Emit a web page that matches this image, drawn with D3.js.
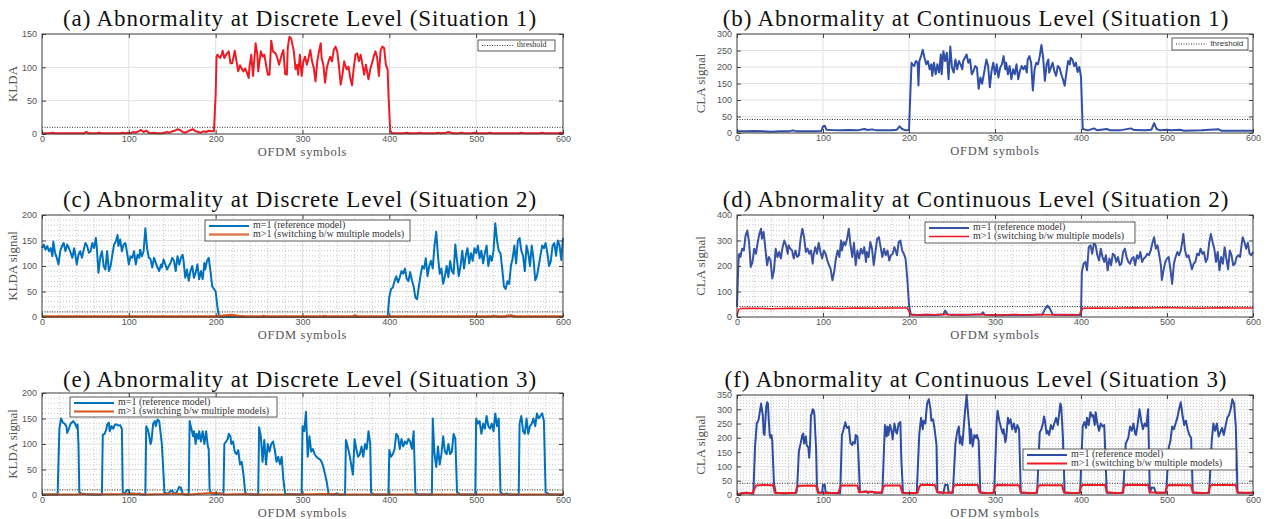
<!DOCTYPE html>
<html>
<head>
<meta charset="utf-8">
<script src="https://cdn.jsdelivr.net/npm/d3@7"></script>
<style>
  body { margin: 0; background: #fff; }
</style>
</head>
<body>
<div id="fig"></div>
<script>
// ---- data: [OFDM symbol, value] ----
const symbolTicks = [0, 100, 200, 300, 400, 500, 600];

// (a) KLDA, situation 1
const kldaSit1 = [[0,1],[9,1],[12,2],[15,1],[48,1],[51,3],[54,1],[63,1],[66,2],[69,1],[90,1],[93,2],[96,1],[99,2],[102,1],[105,3],[108,2],[111,4],[114,6],[117,3],[120,5],[123,2],[126,1],[129,2],[132,1],[138,1],[141,2],[144,3],[147,2],[150,4],[153,5],[156,7],[159,6],[162,3],[165,2],[168,4],[171,6],[174,7],[177,4],[180,3],[183,2],[186,4],[189,3],[192,5],[195,4],[198,4],
  [200,60],[201,116],[202,119],[205,114],[207,119],[208,125],[210,114],[212,119],[215,124],[217,106],[219,106],[222,125],[224,109],[226,94],[228,103],[230,98],[232,94],[234,98],[236,92],[238,84],[239,101],[241,119],[243,87],[245,119],[246,136],[248,119],[249,94],[252,124],[254,116],[256,119],[258,104],[260,89],[262,89],[264,140],[266,124],[269,121],[271,114],[273,104],[276,119],[278,126],[280,90],[282,89],[283,129],[285,146],[287,143],[290,124],[292,97],[294,104],[295,89],[297,119],[299,87],[301,109],[303,116],[305,104],[307,114],[309,126],[311,109],[313,99],[315,79],[317,109],[319,124],[321,136],[322,114],[324,104],[326,77],[328,99],[330,109],[332,116],[334,109],[336,126],[338,131],[340,124],[342,101],[344,74],[346,89],[348,109],[349,104],[351,97],[353,101],[355,84],[357,73],[359,99],[361,119],[363,121],[365,109],[367,119],[369,104],[371,89],[373,104],[375,89],[376,82],[378,97],[380,106],[382,116],[384,124],[386,114],[388,87],[390,126],[392,131],[394,129],[396,104],[398,97],[399,60],[401,5],
  [403,1],[417,1],[420,2],[423,1],[432,1],[435,2],[438,1],[453,1],[456,2],[459,1],[465,2],[468,3],[471,2],[474,1],[480,1],[483,2],[486,1],[495,1],[498,2],[501,1],[513,1],[516,2],[519,1],[549,1],[552,2],[555,1],[573,1],[576,2],[579,1],[594,1],[597,2],[600,1]];

// (b) CLA, situation 1
const claSit1 = [[0,5],[10,5],[20,6],[30,5],[40,4],[50,5],[60,5],[65,8],[70,5],[80,5],[90,5],[98,6],[100,20],[102,22],[104,10],[110,9],[120,8],[130,9],[140,8],[148,12],[152,9],[157,11],[162,8],[170,8],[180,8],[186,10],[189,20],[192,12],[196,8],[200,9],
  [202,150],[203,213],[204,208],[206,203],[208,218],[210,213],[211,144],[212,218],[214,233],[216,252],[218,228],[220,208],[222,218],[224,193],[226,208],[227,173],[229,213],[231,178],[233,208],[235,183],[237,238],[238,178],[240,248],[242,218],[244,243],[246,163],[248,262],[250,198],[252,183],[254,223],[256,193],[258,218],[260,208],[262,193],[263,218],[265,228],[267,238],[269,213],[271,223],[273,178],[275,188],[277,203],[279,198],[281,134],[283,168],[285,149],[287,178],[288,193],[290,223],[292,203],[294,139],[296,188],[298,213],[300,178],[302,208],[304,168],[306,198],[308,208],[310,233],[312,193],[313,213],[315,178],[317,203],[319,163],[321,193],[323,178],[325,208],[327,163],[329,188],[331,203],[333,193],[335,203],[337,183],[338,223],[340,233],[342,213],[344,129],[346,193],[348,213],[350,208],[352,233],[354,267],[356,228],[358,158],[360,208],[362,223],[363,183],[365,198],[367,213],[369,188],[371,173],[373,203],[375,198],[377,178],[379,163],[381,143],[383,183],[385,218],[387,208],[388,228],[390,223],[392,203],[394,213],[396,185],[398,200],[400,170],[402,12],
  [408,8],[415,14],[419,8],[430,12],[434,8],[445,8],[458,14],[462,9],[475,8],[482,10],[485,30],[488,12],[492,8],[500,10],[505,8],[515,10],[520,7],[540,8],[560,11],[563,7],[580,7],[600,7]];

// (c) KLDA, situation 2
const kldaSit2Ref = [[0,135],[2,142],[4,132],[6,139],[8,129],[10,135],[12,119],[13,148],[15,126],[17,116],[19,103],[21,129],[23,139],[25,145],[27,129],[29,142],[31,135],[33,126],[35,116],[37,135],[38,126],[40,103],[42,122],[44,129],[46,116],[48,132],[50,145],[52,139],[54,126],[56,129],[58,145],[60,135],[62,155],[63,139],[65,87],[67,116],[69,129],[71,100],[73,93],[75,129],[77,90],[79,100],[81,122],[83,142],[85,148],[87,161],[88,139],[90,152],[92,129],[94,142],[96,145],[98,126],[100,103],[102,119],[104,116],[106,129],[108,103],[110,122],[112,116],[113,132],[115,119],[117,129],[119,174],[121,135],[123,116],[125,113],[127,97],[129,116],[131,106],[133,97],[135,90],[137,103],[138,97],[140,113],[142,103],[144,93],[146,100],[148,106],[150,116],[152,110],[154,90],[156,119],[158,103],[160,116],[162,122],[163,110],[165,77],[167,93],[169,71],[171,90],[173,100],[175,77],[177,87],[179,103],[181,74],[183,90],[185,74],[187,106],[188,93],[190,110],[192,116],[194,90],[196,60],[198,55],[200,50],[202,20],[204,0],
  [398,0],[400,40],[402,55],[404,58],[406,70],[408,80],[410,68],[412,78],[414,90],[416,85],[418,95],[420,75],[422,70],[424,88],[426,72],[428,60],[430,38],[432,35],[434,60],[436,82],[438,100],[440,95],[442,115],[444,80],[446,100],[448,110],[450,95],[452,140],[454,167],[456,120],[458,85],[460,95],[462,65],[464,80],[466,100],[468,78],[470,110],[472,90],[474,85],[476,142],[478,110],[480,80],[482,100],[484,130],[486,95],[488,120],[490,135],[492,105],[494,125],[496,110],[498,135],[500,125],[502,140],[504,115],[506,130],[508,105],[510,125],[512,140],[514,100],[516,120],[518,110],[520,130],[522,184],[524,150],[526,130],[528,125],[530,95],[532,60],[534,55],[536,70],[538,65],[540,100],[542,115],[544,140],[546,105],[548,150],[550,155],[552,130],[554,120],[556,90],[558,140],[560,125],[562,100],[564,140],[566,115],[568,72],[570,80],[572,100],[574,120],[576,140],[578,135],[580,145],[582,125],[584,100],[586,110],[588,140],[590,145],[592,120],[594,150],[596,140],[598,112],[600,155]];
const kldaSit2Sw = [[0,1],[200,1],[205,2],[212,3],[218,4],[222,3],[226,2],[235,1],[253,1],[255,2],[258,1],[323,1],[325,2],[328,1],[358,1],[360,3],[364,1],[518,1],[520,2],[525,1],[533,1],[535,2],[540,3],[545,1],[600,1]];

// (d) CLA, situation 2
const claSit2Ref = [[0,40],[1,150],[2,242],[3,248],[4,235],[6,268],[8,261],[10,320],[12,339],[14,294],[16,196],[18,215],[20,268],[22,248],[24,291],[26,326],[28,346],[29,307],[31,333],[33,268],[35,203],[37,235],[39,222],[41,151],[43,183],[45,268],[47,235],[49,255],[51,229],[53,274],[55,300],[57,281],[59,248],[60,281],[62,268],[64,261],[66,229],[68,261],[70,235],[72,242],[74,307],[76,346],[78,313],[80,255],[82,268],[84,248],[86,261],[88,209],[89,242],[91,274],[93,248],[95,291],[97,255],[99,229],[101,261],[103,248],[105,222],[107,203],[109,187],[111,144],[113,177],[115,229],[117,261],[119,235],[121,300],[122,261],[124,294],[126,281],[128,307],[130,346],[132,281],[134,235],[136,291],[138,203],[140,261],[142,229],[144,268],[146,248],[148,274],[150,216],[151,255],[153,235],[155,294],[157,268],[159,203],[161,255],[163,307],[165,313],[167,274],[169,235],[171,268],[173,242],[175,261],[177,222],[179,242],[181,248],[183,274],[185,255],[186,242],[188,294],[190,300],[192,261],[194,248],[196,229],[198,151],[200,47],[202,10],
  [210,8],[220,9],[230,8],[240,10],[242,25],[245,10],[260,8],[270,9],[284,10],[286,18],[288,9],[300,7],[320,8],[340,8],[355,10],[358,30],[361,45],[364,32],[367,10],[380,8],[390,9],[398,8],[400,8],
  [401,177],[403,209],[405,216],[407,183],[409,274],[411,281],[413,248],[415,291],[417,281],[419,242],[421,222],[423,268],[425,235],[427,216],[429,242],[431,183],[433,229],[435,203],[437,248],[439,242],[441,216],[443,235],[445,203],[447,209],[449,255],[451,268],[453,235],[455,216],[457,209],[459,229],[461,235],[463,203],[465,242],[467,229],[469,255],[471,216],[473,229],[475,235],[477,248],[479,242],[481,260],[483,290],[485,313],[487,268],[489,281],[491,242],[493,200],[494,145],[496,183],[498,216],[500,229],[502,235],[504,187],[506,130],[508,209],[510,235],[512,255],[514,242],[516,260],[518,300],[519,326],[521,261],[523,235],[525,242],[527,216],[529,187],[531,209],[533,216],[535,248],[537,242],[539,268],[541,248],[543,255],[545,216],[547,229],[549,290],[551,326],[553,294],[555,268],[557,216],[559,255],[561,183],[563,235],[565,209],[567,274],[569,229],[571,187],[573,261],[575,242],[577,203],[579,209],[581,235],[583,242],[585,235],[587,290],[588,313],[590,294],[592,268],[594,291],[596,248],[598,242],[600,255]];
const claSit2Sw = [[0,5],[2,30],[4,33],[20,34],[40,32],[60,34],[80,33],[100,35],[120,33],[140,35],[160,34],[180,35],[198,35],[201,15],[203,8],[210,8],[220,10],[230,9],[240,11],[250,8],[260,10],[270,9],[280,11],[290,8],[300,9],[310,8],[320,10],[330,9],[340,8],[350,10],[360,9],[370,8],[380,10],[390,8],[398,10],[400,20],[402,34],[420,35],[440,34],[460,36],[480,35],[500,37],[520,35],[540,34],[560,36],[580,35],[600,35]];

// (e) KLDA, situation 3
const kldaSit3Ref = [[0,1],[10,1],[18,1],
  [20,130],[22,150],[24,142],[26,140],[28,135],[29,122],[31,130],[33,140],[35,143],[36,145],[38,140],[40,132],[41,138],[42,100],[43,5],[45,3],[50,2],[60,1],[69,1],
  [70,118],[72,120],[74,128],[75,138],[77,142],[78,125],[80,135],[82,130],[84,138],[86,138],[88,136],[90,137],[92,130],[93,5],[95,2],[98,10],[100,10],[101,2],[105,3],[108,2],[112,3],[115,1],[119,1],
  [120,135],[122,128],[123,120],[125,100],[126,105],[128,140],[130,145],[131,135],[133,148],[135,145],[136,130],[138,100],[139,70],[141,5],[145,2],[148,8],[150,9],[152,3],[155,5],[158,16],[160,14],[162,3],[165,1],[169,1],
  [170,145],[172,130],[174,115],[175,125],[177,100],[178,120],[180,110],[181,125],[183,105],[185,125],[187,100],[189,125],[191,95],[192,90],[193,10],[195,3],[200,2],[205,3],[209,2],
  [210,100],[212,105],[214,110],[215,120],[217,115],[218,100],[220,105],[222,85],[224,80],[226,88],[228,60],[230,65],[232,40],[234,5],[236,2],[249,1],
  [250,133],[252,115],[254,65],[256,108],[258,60],[260,100],[262,85],[264,100],[266,105],[268,90],[270,65],[272,75],[274,60],[276,75],[278,30],[280,2],[285,2],[299,1],
  [300,135],[302,125],[304,163],[306,75],[308,115],[310,85],[312,90],[314,80],[316,75],[318,72],[320,70],[322,65],[324,55],[326,40],[328,25],[330,2],[335,1],[340,3],[342,1],[349,1],
  [350,108],[352,95],[354,80],[356,60],[358,40],[360,110],[362,90],[364,75],[366,80],[368,95],[370,75],[372,100],[374,90],[376,125],[378,100],[379,5],[382,1],[399,1],
  [400,88],[402,75],[404,80],[406,90],[408,120],[410,115],[412,90],[414,110],[416,95],[418,105],[420,100],[422,110],[424,105],[426,90],[428,125],[430,5],[433,1],[449,1],
  [450,150],[452,80],[454,55],[456,95],[458,60],[460,80],[462,115],[464,85],[466,80],[468,100],[470,80],[472,85],[474,120],[476,110],[478,5],[482,1],[499,1],
  [500,150],[502,140],[504,145],[506,120],[508,140],[510,130],[512,155],[514,135],[516,130],[518,140],[520,125],[522,160],[524,135],[526,150],[528,5],[532,1],[535,3],[538,1],[549,1],
  [550,140],[552,155],[554,125],[556,120],[558,150],[560,120],[562,135],[564,140],[566,150],[568,135],[570,160],[572,150],[574,155],[576,160],[578,145],[580,5],[585,1],[600,1]];
const kldaSit3Sw = [[0,1],[40,1],[45,2],[55,1],[95,2],[100,3],[110,2],[120,1],[140,2],[150,3],[160,2],[170,1],[195,4],[200,4],[205,3],[210,1],[235,2],[240,1],[285,1],[330,2],[340,1],[596,1],[600,2]];

// (f) CLA, situation 3
const claSit3Ref = [[0,2],[5,5],[10,8],[15,6],[19,5],
  [21,170],[23,250],[25,262],[27,300],[28,320],[30,280],[31,215],[32,210],[33,260],[34,310],[35,325],[36,320],[37,260],[38,210],[39,200],[40,210],[41,190],[43,40],[45,8],[55,6],[65,7],[69,8],
  [70,30],[72,155],[74,180],[76,210],[77,215],[78,180],[80,205],[81,175],[83,165],[84,130],[85,180],[86,280],[87,285],[88,300],[89,298],[90,280],[92,160],[93,30],[95,8],[99,10],[100,35],[102,36],[103,10],[110,7],[120,6],
  [122,210],[124,230],[126,255],[127,240],[128,235],[130,240],[132,180],[134,175],[135,185],[137,180],[138,210],[140,205],[141,150],[143,10],[150,12],[152,8],[157,12],[160,8],[169,8],
  [172,245],[174,205],[175,240],[176,210],[178,245],[180,220],[181,195],[183,250],[185,220],[186,215],[188,250],[190,255],[191,130],[193,8],[200,7],[209,8],
  [212,215],[214,270],[216,230],[217,260],[219,250],[221,320],[223,335],[225,300],[226,260],[228,265],[230,225],[232,175],[233,10],[240,8],[242,35],[245,35],[246,10],[251,8],
  [254,180],[256,220],[258,240],[259,180],[260,205],[262,175],[263,210],[265,290],[266,320],[267,350],[268,310],[270,240],[271,180],[272,230],[274,170],[276,210],[278,200],[279,210],[281,190],[283,8],[290,7],[299,8],
  [302,260],[303,295],[305,260],[307,235],[309,215],[310,230],[312,185],[313,200],[315,270],[316,250],[318,265],[320,230],[322,250],[324,220],[326,245],[328,230],[330,8],[340,7],[349,8],
  [352,220],[354,230],[356,255],[357,275],[358,260],[360,215],[361,225],[363,210],[365,245],[367,230],[369,250],[371,270],[373,245],[376,320],[377,310],[379,200],[381,8],[390,7],[399,8],
  [402,240],[404,255],[406,235],[407,270],[409,245],[411,290],[413,275],[414,280],[416,245],[417,290],[419,250],[421,225],[423,250],[425,240],[427,245],[430,8],[440,7],[449,8],
  [452,180],[455,200],[457,240],[459,225],[461,250],[463,215],[464,210],[466,250],[468,300],[470,260],[472,230],[474,250],[476,240],[478,300],[480,8],[482,25],[485,25],[487,8],[499,8],
  [502,165],[504,190],[506,240],[508,230],[510,250],[512,270],[514,300],[516,325],[518,280],[520,245],[522,260],[524,230],[526,210],[528,200],[530,8],[540,7],[549,8],
  [552,190],[554,250],[556,225],[558,250],[560,205],[562,220],[564,235],[566,210],[568,240],[570,270],[572,280],[574,300],[576,335],[578,320],[580,240],[582,8],[590,7],[600,8]];
const claSit3Sw = [[0,2],[6,6],[12,8],[18,5],[20,20],[22,33],[30,35],[42,34],[44,8],[55,6],[68,8],[70,28],[72,32],[85,33],[92,32],[94,8],[105,7],[118,8],[120,28],[122,33],[140,33],[142,10],[150,12],[160,10],[168,8],[170,28],[172,33],[190,33],[192,8],[205,7],[210,8],[212,30],[214,36],[230,35],[233,10],[240,8],[250,8],[252,30],[254,35],[280,35],[282,10],[290,7],[298,8],[300,30],[302,35],[328,34],[330,10],[340,7],[348,8],[350,30],[352,34],[378,34],[380,10],[390,7],[398,8],[400,30],[402,35],[428,35],[430,10],[440,7],[448,8],[450,30],[452,36],[478,35],[480,10],[490,8],[498,8],[500,30],[502,35],[528,34],[530,10],[540,7],[548,8],[550,30],[552,35],[580,35],[582,10],[590,8],[600,8]];

const thresholds = { a: 10, b: 41, c: 10, d: 41, e: 10, f: 41 };
const legendRef = "m=1 (reference model)";
const legendSw = "m>1 (switching b/w multiple models)";

// ---- drawing ----
const serif = "'Liberation Serif','Times New Roman',serif";
const sans = "'Liberation Sans',Arial,sans-serif";

const svg = d3.select("#fig").append("svg")
    .attr("width", 1270)
    .attr("height", 519)
    .style("display", "block");

const panels = [
  { id: "a", left: 42, right: 563, top: 34, bottom: 134, ymax: 150, ystep: 50, minor: 0,
    title: "(a) Abnormality at Discrete Level (Situation 1)", ylabel: "KLDA", titleX: 300, titleY: 26, ylabX: 14,
    series: [{ data: kldaSit1, color: "#ed1c24", w: 2 }],
    legend: { x: 478, y: 40, w: 77, h: 11, font: serif, items: [{ label: "threshold", thr: true }] } },
  { id: "b", left: 737, right: 1253, top: 34, bottom: 133, ymax: 300, ystep: 50, minor: 0,
    title: "(b) Abnormality at Continuous Level (Situation 1)", ylabel: "CLA signal", titleX: 976, titleY: 26, ylabX: 702,
    series: [{ data: claSit1, color: "#3050a8", w: 2 }],
    legend: { x: 1172, y: 38, w: 76, h: 12, font: sans, items: [{ label: "threshold", thr: true }] } },
  { id: "c", left: 42, right: 563, top: 215, bottom: 317, ymax: 200, ystep: 50, minor: 10,
    title: "(c) Abnormality at Discrete Level (Situation 2)", ylabel: "KLDA signal", titleX: 300, titleY: 207, ylabX: 14,
    series: [{ data: kldaSit2Ref, color: "#0072bd", w: 2 }, { data: kldaSit2Sw, color: "#d95319", w: 2.5 }],
    legend: { x: 205, y: 220, w: 205, h: 21, font: serif,
      items: [{ label: legendRef, color: "#0072bd", w: 2 }, { label: legendSw, color: "#e07a55", w: 2.5 }] } },
  { id: "d", left: 737, right: 1253, top: 215, bottom: 317, ymax: 400, ystep: 100, minor: 20,
    title: "(d) Abnormality at Continuous Level (Situation 2)", ylabel: "CLA signal", titleX: 976, titleY: 207, ylabX: 702,
    series: [{ data: claSit2Ref, color: "#3a52a3", w: 2 }, { data: claSit2Sw, color: "#f01820", w: 1.5 }],
    legend: { x: 925, y: 222, w: 210, h: 21, font: serif,
      items: [{ label: legendRef, color: "#3a52a3", w: 2 }, { label: legendSw, color: "#f01820", w: 1.5 }] } },
  { id: "e", left: 42, right: 563, top: 393, bottom: 495, ymax: 200, ystep: 50, minor: 10,
    title: "(e) Abnormality at Discrete Level (Situation 3)", ylabel: "KLDA signal", titleX: 300, titleY: 387, ylabX: 14,
    series: [{ data: kldaSit3Ref, color: "#0072bd", w: 2 }, { data: kldaSit3Sw, color: "#d95319", w: 2 }],
    legend: { x: 70, y: 397, w: 207, h: 20, font: serif,
      items: [{ label: legendRef, color: "#0072bd", w: 2 }, { label: legendSw, color: "#d95319", w: 2 }] } },
  { id: "f", left: 737, right: 1253, top: 395, bottom: 495, ymax: 350, ystep: 50, minor: 10,
    title: "(f) Abnormality at Continuous Level (Situation 3)", ylabel: "CLA signal", titleX: 976, titleY: 387, ylabX: 702,
    series: [{ data: claSit3Ref, color: "#2e4da2", w: 2 }, { data: claSit3Sw, color: "#ee1c25", w: 2 }],
    legend: { x: 1023, y: 449, w: 213, h: 21, font: serif,
      items: [{ label: legendRef, color: "#2e4da2", w: 2 }, { label: legendSw, color: "#ee1c25", w: 2 }] } }
];

panels.forEach(drawPanel);

function drawPanel(p) {
  const x = d3.scaleLinear().domain([0, 600]).range([p.left, p.right]);
  const y = d3.scaleLinear().domain([0, p.ymax]).range([p.bottom, p.top]);
  const g = svg.append("g");
  const yTicks = d3.range(0, p.ymax + 1, p.ystep);

  // minor grid (dotted)
  if (p.minor) {
    g.append("g").selectAll("line")
      .data(d3.range(20, 600, 20).filter(v => v % 100 !== 0))
      .join("line")
      .attr("x1", d => x(d)).attr("x2", d => x(d))
      .attr("y1", p.top).attr("y2", p.bottom)
      .attr("stroke", "#c8c8c8").attr("stroke-dasharray", "1,2");
    g.append("g").selectAll("line")
      .data(d3.range(p.minor, p.ymax, p.minor).filter(v => v % p.ystep !== 0))
      .join("line")
      .attr("x1", p.left).attr("x2", p.right)
      .attr("y1", d => y(d)).attr("y2", d => y(d))
      .attr("stroke", "#c8c8c8").attr("stroke-dasharray", "1,2");
  }

  // major grid
  g.append("g").selectAll("line")
    .data(symbolTicks.slice(1, -1))
    .join("line")
    .attr("x1", d => x(d)).attr("x2", d => x(d))
    .attr("y1", p.top).attr("y2", p.bottom)
    .attr("stroke", "#e0e0e0");
  g.append("g").selectAll("line")
    .data(yTicks.slice(1, -1))
    .join("line")
    .attr("x1", p.left).attr("x2", p.right)
    .attr("y1", d => y(d)).attr("y2", d => y(d))
    .attr("stroke", "#e0e0e0");

  // threshold
  g.append("line")
    .attr("x1", p.left).attr("x2", p.right)
    .attr("y1", y(thresholds[p.id])).attr("y2", y(thresholds[p.id]))
    .attr("stroke", "#333").attr("stroke-dasharray", "1,1.5");

  // signals
  const line = d3.line().x(d => x(d[0])).y(d => y(d[1]));
  p.series.forEach(s => {
    g.append("path")
      .datum(s.data)
      .attr("d", line)
      .attr("fill", "none")
      .attr("stroke", s.color)
      .attr("stroke-width", s.w)
      .attr("stroke-linejoin", "round");
  });

  // axes with inward ticks
  const styleAxis = sel => {
    sel.select(".domain").remove();
    sel.selectAll(".tick line").attr("stroke", "#444");
    sel.selectAll(".tick text").attr("fill", "#555").style("font-family", sans).style("font-size", "9px");
  };
  g.append("g").attr("transform", `translate(0,${p.bottom})`)
    .call(d3.axisBottom(x).tickValues(symbolTicks).tickSize(-4).tickPadding(1.5).tickFormat(d3.format("d")))
    .call(styleAxis);
  g.append("g").attr("transform", `translate(0,${p.top})`)
    .call(d3.axisTop(x).tickValues(symbolTicks).tickSize(-4).tickFormat(""))
    .call(styleAxis);
  g.append("g").attr("transform", `translate(${p.left},0)`)
    .call(d3.axisLeft(y).tickValues(yTicks).tickSize(-4).tickPadding(5).tickFormat(d3.format("d")))
    .call(styleAxis);
  g.append("g").attr("transform", `translate(${p.right},0)`)
    .call(d3.axisRight(y).tickValues(yTicks).tickSize(-4).tickFormat(""))
    .call(styleAxis);

  g.append("rect")
    .attr("x", p.left).attr("y", p.top)
    .attr("width", p.right - p.left).attr("height", p.bottom - p.top)
    .attr("fill", "none").attr("stroke", "#3a3a3a").attr("stroke-width", 1);

  // texts
  g.append("text").attr("x", p.titleX).attr("y", p.titleY)
    .attr("text-anchor", "middle").style("font-family", serif).style("font-size", "23px")
    .style("letter-spacing", "0.9px").attr("fill", "#111")
    .text(p.title);
  g.append("text").attr("x", (p.left + p.right) / 2).attr("y", p.bottom + 21.5)
    .attr("text-anchor", "middle").style("font-family", serif).style("font-size", "12.5px").attr("fill", "#555")
    .style("letter-spacing", "0.7px")
    .text("OFDM symbols");
  g.append("text")
    .attr("transform", `translate(${p.ylabX},${(p.top + p.bottom) / 2}) rotate(-90)`)
    .attr("text-anchor", "middle").attr("dominant-baseline", "middle")
    .style("font-family", serif).style("font-size", "13px").attr("fill", "#555")
    .text(p.ylabel);

  drawLegend(p.legend);
}

function drawLegend(L) {
  const lg = svg.append("g");
  lg.append("rect")
    .attr("x", L.x).attr("y", L.y).attr("width", L.w).attr("height", L.h)
    .attr("fill", "#fff").attr("stroke", "#333").attr("stroke-width", 0.8);
  const single = L.items.length === 1;
  const len = single ? L.w * 0.4 : 40;
  const row = single ? 0 : 8.5;
  const y0 = single ? L.y + L.h / 2 : L.y + 6;
  L.items.forEach((it, i) => {
    const cy = y0 + i * row;
    const ln = lg.append("line")
      .attr("x1", L.x + 4).attr("x2", L.x + 4 + len)
      .attr("y1", cy).attr("y2", cy);
    if (it.thr) ln.attr("stroke", "#333").attr("stroke-dasharray", "1,1.5");
    else ln.attr("stroke", it.color).attr("stroke-width", it.w);
    lg.append("text")
      .attr("x", L.x + 8 + len).attr("y", cy)
      .attr("dominant-baseline", "middle")
      .style("font-family", L.font).style("font-size", single ? "8px" : "10px")
      .attr("fill", "#333")
      .text(it.label);
  });
}
</script>
</body>
</html>
